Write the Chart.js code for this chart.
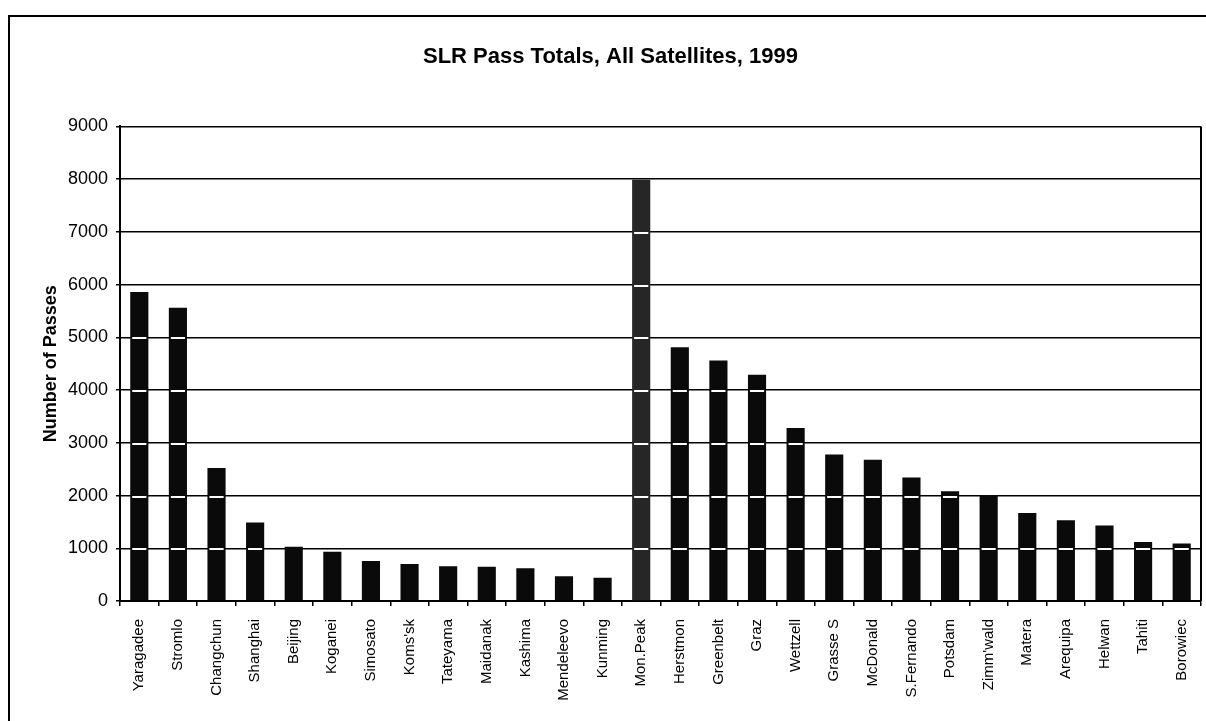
<!DOCTYPE html>
<html>
<head>
<meta charset="utf-8">
<title>SLR Pass Totals, All Satellites, 1999</title>
<script src="https://cdn.jsdelivr.net/npm/chart.js@4.4.1/dist/chart.umd.min.js"></script>
<style>
  html, body { margin: 0; padding: 0; background: #fff; }
  canvas { display: block; }
</style>
</head>
<body>
<canvas id="slrChart" width="1206" height="721"></canvas>
<script>
const stations = ['Yaragadee', 'Stromlo', 'Changchun', 'Shanghai', 'Beijing', 'Koganei', 'Simosato',
    "Koms'sk", 'Tateyama', 'Maidanak', 'Kashima', 'Mendeleevo', 'Kunming', 'Mon.Peak', 'Herstmon',
    'Greenbelt', 'Graz', 'Wettzell', 'Grasse S', 'McDonald', 'S.Fernando', 'Potsdam', "Zimm'wald",
    'Matera', 'Arequipa', 'Helwan', 'Tahiti', 'Borowiec'];
const passTotals = [5860, 5560, 2520, 1490, 1030, 935, 760, 700, 660, 650, 620, 470, 440, 7990,
    4810, 4560, 4290, 3280, 2780, 2680, 2340, 2080, 2010, 1670, 1530, 1430, 1120, 1090];
const yTickValues = [0, 1000, 2000, 3000, 4000, 5000, 6000, 7000, 8000, 9000];

const fontFamily = '"Liberation Sans", Arial, Helvetica, sans-serif';

// outer frame of the printed figure (left and top edges)
const framePlugin = {
    id: 'frame',
    beforeDraw(chart) {
        const ctx = chart.ctx;
        ctx.save();
        ctx.fillStyle = '#fff';
        ctx.fillRect(0, 0, chart.width, chart.height);
        ctx.strokeStyle = '#000';
        ctx.lineWidth = 2;
        ctx.beginPath();
        ctx.moveTo(9, chart.height);
        ctx.lineTo(9, 16);
        ctx.lineTo(chart.width, 16);
        ctx.stroke();
        ctx.restore();
    }
};

// right edge of the plot area
const plotBorder = {
    id: 'plotBorder',
    afterDraw(chart) {
        const a = chart.chartArea;
        const ctx = chart.ctx;
        ctx.save();
        ctx.strokeStyle = '#000';
        ctx.lineWidth = 2;
        ctx.beginPath();
        ctx.moveTo(a.right, a.top);
        ctx.lineTo(a.right, a.bottom);
        ctx.stroke();
        ctx.restore();
    }
};

// light gaps where the gridlines cross the bars
const gridStripes = {
    id: 'gridStripes',
    afterDatasetsDraw(chart) {
        const yScale = chart.scales.y;
        const meta = chart.getDatasetMeta(0);
        const ctx = chart.ctx;
        ctx.save();
        ctx.strokeStyle = '#ffffff';
        ctx.lineWidth = 2;
        meta.data.forEach((bar, i) => {
            const half = bar.width / 2;
            yTickValues.forEach(t => {
                if (t === 0 || t > passTotals[i] - 40) return;
                const py = Math.round(yScale.getPixelForValue(t)) + 1;
                ctx.beginPath();
                ctx.moveTo(bar.x - half + 2, py);
                ctx.lineTo(bar.x + half - 2, py);
                ctx.stroke();
            });
        });
        ctx.restore();
    }
};

const ctx = document.getElementById('slrChart').getContext('2d');
const slrChart = new Chart(ctx, {
    type: 'bar',
    data: {
        labels: stations,
        datasets: [{
            label: 'Number of Passes',
            data: passTotals,
            backgroundColor: c => c.index === stations.indexOf('Mon.Peak') ? '#262626' : '#0a0a0a',
            borderWidth: 0,
            barPercentage: 0.47,
            categoryPercentage: 1
        }]
    },
    options: {
        responsive: false,
        devicePixelRatio: 1,
        animation: false,
        layout: {
            padding: { left: 20, right: 5, top: 0, bottom: 0 }
        },
        plugins: {
            legend: { display: false },
            tooltip: { enabled: false },
            title: {
                display: true,
                text: 'SLR Pass Totals, All Satellites, 1999',
                color: '#000',
                font: { family: fontFamily, size: 22, weight: 'bold' },
                padding: { top: 44, bottom: 56 }
            }
        },
        scales: {
            x: {
                afterFit(scale) {
                    scale.height = 120;
                    scale.paddingLeft = 0;
                    scale.paddingRight = 0;
                },
                border: { color: '#000', width: 2 },
                grid: {
                    display: true,
                    drawOnChartArea: false,
                    color: '#000',
                    lineWidth: 1.5,
                    tickLength: 5
                },
                ticks: {
                    color: '#000',
                    font: { family: fontFamily, size: 15 },
                    autoSkip: false,
                    minRotation: 90,
                    maxRotation: 90,
                    padding: 13
                }
            },
            y: {
                min: yTickValues[0],
                max: yTickValues[yTickValues.length - 1],
                afterFit(scale) { scale.width = 100; },
                afterBuildTicks(scale) {
                    scale.ticks = yTickValues.map(v => ({ value: v }));
                },
                border: { color: '#000', width: 2 },
                grid: {
                    color: '#000',
                    lineWidth: 1.5,
                    tickLength: 4
                },
                ticks: {
                    color: '#000',
                    font: { family: fontFamily, size: 18 },
                    padding: 8,
                    callback: v => String(v)
                },
                title: {
                    display: true,
                    text: 'Number of Passes',
                    color: '#000',
                    font: { family: fontFamily, size: 18, weight: 'bold' },
                    padding: { top: 20, bottom: 0 }
                }
            }
        }
    },
    plugins: [framePlugin, plotBorder, gridStripes]
});
</script>
</body>
</html>
